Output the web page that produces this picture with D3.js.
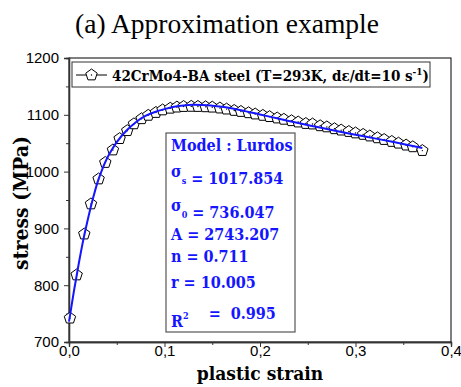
<!DOCTYPE html>
<html><head><meta charset="utf-8">
<script src="https://cdn.jsdelivr.net/npm/d3@7"></script>
<style>body{margin:0;background:#fff}svg{display:block}</style>
</head><body>
<svg id="c" width="461" height="387"></svg>
<script>
// ---- data ----
const strain = [0.001,0.008,0.016,0.023,0.031,0.038,0.046,0.053,0.061,0.068,0.076,0.083,0.091,0.098,0.106,0.113,0.120,0.128,0.135,0.143,0.150,0.158,0.165,0.173,0.180,0.188,0.195,0.203,0.210,0.218,0.225,0.233,0.240,0.248,0.255,0.263,0.270,0.278,0.285,0.293,0.300,0.308,0.315,0.323,0.330,0.338,0.345,0.353,0.360,0.370];
const stress = [742,818,890,943,987,1016,1038,1058,1072,1084,1093,1099,1104,1108.5,1111.5,1113.5,1114.5,1114.8,1114.6,1114,1113.4,1111.8,1110,1107.6,1105.8,1103.5,1101.3,1098.9,1096.7,1094.3,1092,1089.5,1087.2,1084.6,1083.7,1080.6,1078.6,1075.4,1073,1070.5,1068,1065.4,1062.6,1059.4,1056.4,1053,1050,1046.6,1043.6,1037];
const modelStrain = [0,0.005,0.01,0.015,0.02,0.025,0.03,0.035,0.04,0.045,0.05,0.06,0.07,0.08,0.09,0.10,0.11,0.12,0.13,0.14,0.15,0.16,0.18,0.20,0.22,0.24,0.26,0.28,0.30,0.32,0.34,0.36,0.37];
const modelStress = [736,788,836,880,918,952,982,1005,1024,1039,1052,1072,1087,1098,1105,1110,1114,1116.5,1117.5,1117.3,1116,1114,1108,1100.5,1093,1085.5,1078.5,1071.5,1065,1058.5,1052,1045,1041.5];
const xTicks = [0,0.1,0.2,0.3,0.4];
const xTickLabels = ["0,0","0,1","0,2","0,3","0,4"];
const yTicks = [700,800,900,1000,1100,1200];
const yTickLabels = ["700","800","900","1000","1100","1200"];
const seriesName = "42CrMo4-BA steel (T=293K, dε/dt=10 s";
const modelLines = ["Model : Lurdos","σ|s| = 1017.854","σ|0| = 736.047","A = 2743.207","n = 0.711","r = 10.005","R^2^    =  0.995"];

// ---- layout ----
const svg = d3.select("#c");
const L=69, R=451, T=58, B=342;
const x = d3.scaleLinear().domain([0,0.4]).range([L,R]);
const y = d3.scaleLinear().domain([700,1200]).range([B,T]);
const blue = "#1515ff";
const serifB = "'DejaVu Serif Condensed','DejaVu Serif',serif";

svg.append("text").attr("x",227).attr("y",33).attr("text-anchor","middle")
  .attr("font-family","'Liberation Serif','Times New Roman',serif").attr("font-size",27.5)
  .text("(a) Approximation example");

// frame
svg.append("rect").attr("x",L).attr("y",T).attr("width",R-L).attr("height",B-T)
  .attr("fill","none").attr("stroke","#000").attr("stroke-width",1);

// axes
const xAxis = svg.append("g").attr("transform",`translate(0,${B})`)
  .call(d3.axisBottom(x).tickValues(xTicks).tickSize(5).tickFormat((d,i)=>xTickLabels[i]));
svg.append("g").attr("transform",`translate(0,${B})`)
  .call(d3.axisBottom(x).tickValues([0.05,0.15,0.25,0.35]).tickSize(3).tickFormat(""));
const yAxis = svg.append("g").attr("transform",`translate(${L},0)`)
  .call(d3.axisLeft(y).tickValues(yTicks).tickSize(5).tickFormat((d,i)=>yTickLabels[i]));
svg.append("g").attr("transform",`translate(${L},0)`)
  .call(d3.axisLeft(y).tickValues([750,850,950,1050,1150]).tickSize(3).tickFormat(""));
svg.selectAll(".domain").attr("stroke","#333").attr("stroke-width",1.3);
svg.selectAll(".tick line").attr("stroke","#333");
svg.selectAll(".tick text").attr("font-family","'Liberation Sans',Arial,sans-serif").attr("font-size",15).attr("fill","#000");
xAxis.selectAll(".tick text").attr("dy",0).attr("y",14);
yAxis.selectAll(".tick text").attr("x",-10);

// axis labels
svg.append("text").attr("x",260).attr("y",380).attr("text-anchor","middle")
  .attr("font-family",serifB).attr("font-weight","bold").attr("font-size",19).text("plastic strain");
svg.append("text").attr("transform",`translate(28,203) rotate(-90)`).attr("text-anchor","middle")
  .attr("font-family",serifB).attr("font-weight","bold").attr("font-size",21).text("stress (MPa)");

// pentagon
function pent(cx,cy,r){
  const p=d3.path();
  for(let k=0;k<5;k++){const a=-Math.PI/2+k*2*Math.PI/5;const px=cx+r*Math.cos(a),py=cy+r*Math.sin(a);k?p.lineTo(px,py):p.moveTo(px,py);}
  p.closePath();return p.toString();
}
const pts = strain.map((s,i)=>({s,v:stress[i]}));
const mk = svg.append("g");
pts.forEach(d=>{
  mk.append("path").attr("d",pent(x(d.s),y(d.v),6)).attr("fill","#fff").attr("stroke","#000").attr("stroke-width",1);
  mk.append("circle").attr("cx",x(d.s)).attr("cy",y(d.v)).attr("r",0.7).attr("fill","#000");
});

// model line
const line = d3.line().x(d=>x(d[0])).y(d=>y(d[1])).curve(d3.curveMonotoneX);
svg.append("path").datum(modelStrain.map((s,i)=>[s,modelStress[i]]))
  .attr("d",line).attr("fill","none").attr("stroke",blue).attr("stroke-width",2);

// legend
svg.append("rect").attr("x",72).attr("y",62).attr("width",358).attr("height",25)
  .attr("fill","#fff").attr("stroke","#333").attr("stroke-width",1);
svg.append("line").attr("x1",76).attr("x2",107).attr("y1",75).attr("y2",75).attr("stroke","#000");
svg.append("path").attr("d",pent(91.5,75,6)).attr("fill","#fff").attr("stroke","#000");
svg.append("circle").attr("cx",91.5).attr("cy",75).attr("r",0.7).attr("fill","#000");
const lt = svg.append("text").attr("x",112).attr("y",81).attr("font-family",serifB)
  .attr("font-weight","bold").attr("font-size",15);
lt.append("tspan").text(seriesName);
lt.append("tspan").attr("dy",-6).attr("font-size",10).text("-1");
lt.append("tspan").attr("dy",6).text(")");

// model box
svg.append("rect").attr("x",166).attr("y",133).attr("width",129).attr("height",199)
  .attr("fill","#fff").attr("stroke","#555").attr("stroke-width",1.2);
const baselines = [151,177,211,240,262,288,327];
modelLines.forEach((s,i)=>{
  const t = svg.append("text").attr("x",171).attr("y",baselines[i]).attr("fill",blue)
    .attr("font-family",serifB).attr("font-weight","bold").attr("font-size",16);
  const parts = s.split(/(\|[^|]*\||\^[^^]*\^)/).filter(p=>p.length);
  parts.forEach(p=>{
    if(p[0]==="|"){t.append("tspan").attr("dy",7).attr("font-size",9).text(p.slice(1,-1));t.append("tspan").attr("dy",-7).text("");}
    else if(p[0]==="^"){t.append("tspan").attr("dy",-8).attr("font-size",9).text(p.slice(1,-1));t.append("tspan").attr("dy",8).text("");}
    else t.append("tspan").text(p);
  });
  t.style("white-space","pre");
});
</script>
</body></html>
